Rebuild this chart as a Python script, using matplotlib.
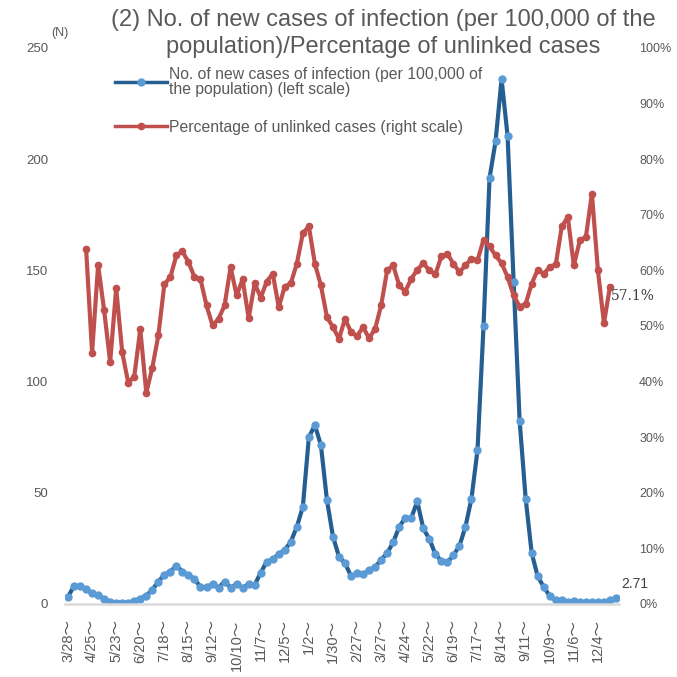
import matplotlib
matplotlib.use("Agg")
import matplotlib.pyplot as plt
from matplotlib.lines import Line2D

# weekly series, week 0 = 3/28
new_cases = [
    3.3, 8.1, 8.1, 6.6, 4.8, 4.1, 2.2, 1.1, 0.6, 0.6,
    0.6, 1.5, 2.4, 3.8, 6.3, 10.1, 13.1, 14.6, 17.2, 14.6,
    13.1, 11.1, 7.8, 7.5, 9.0, 7.4, 10.1, 7.4, 8.9, 7.4,
    9.0, 8.6, 14.1, 19.0, 20.1, 22.5, 24.3, 28.0, 34.7, 43.7,
    75.1, 80.4, 71.4, 46.7, 30.3, 21.3, 18.3, 12.6, 13.8, 13.5,
    15.1, 16.7, 19.8, 22.9, 27.7, 34.7, 38.7, 38.7, 46.1, 34.0,
    29.2, 22.5, 19.3, 18.7, 21.9, 26.1, 34.7, 47.4, 69.1, 124.8,
    191.5, 208.0, 236.0, 210.4, 145.0, 82.3, 47.4, 22.9, 12.4, 7.7,
    3.6, 1.7, 1.7, 0.8, 1.4, 0.8, 0.8, 0.8, 0.8, 0.8,
    1.7, 2.71,
]
# percentage of unlinked cases, starts at week 3
unlinked_start = 3
unlinked_pct = [
    63.9, 45.2, 61.0, 52.8, 43.5, 56.8, 45.3, 39.8, 40.9, 49.4,
    38.0, 42.5, 48.3, 57.5, 58.8, 62.7, 63.4, 61.5, 58.8, 58.4,
    53.7, 50.1, 51.3, 53.7, 60.6, 55.5, 58.4, 51.4, 57.7, 55.1,
    58.0, 59.4, 53.4, 57.1, 57.7, 61.2, 66.7, 67.9, 61.2, 57.3,
    51.6, 49.8, 47.7, 51.3, 48.9, 48.2, 49.8, 47.8, 49.5, 53.7,
    60.0, 60.9, 57.3, 56.2, 58.5, 60.1, 61.3, 60.0, 59.3, 62.5,
    63.0, 61.2, 59.7, 60.9, 62.1, 61.8, 65.5, 64.3, 62.7, 61.3,
    58.8, 55.5, 53.5, 54.0, 57.6, 60.1, 59.4, 60.6, 61.1, 67.9,
    69.6, 60.9, 65.4, 66.0, 73.8, 60.0, 50.5, 57.1,
]
tick_labels = [
    "3/28", "4/25", "5/23", "6/20", "7/18", "8/15", "9/12", "10/10",
    "11/7", "12/5", "1/2", "1/30", "2/27", "3/27", "4/24", "5/22",
    "6/19", "7/17", "8/14", "9/11", "10/9", "11/6", "12/4",
]
tick_step = 4

TXT = "#595959"
plt.rcParams["font.family"] = ["Liberation Sans", "DejaVu Sans"]

fig = plt.figure(figsize=(6.77, 6.77), dpi=100)
ax = fig.add_axes([65 / 677, 73 / 677, 554 / 677, 556 / 677])
ax2 = ax.twinx()

x_blue = list(range(len(new_cases)))
x_red = list(range(unlinked_start, unlinked_start + len(unlinked_pct)))

ax.plot(x_blue, new_cases, color="#255E91", lw=3, marker="o", ms=5,
        mfc="#5B9BD5", mec="#5B9BD5", solid_joinstyle="round")
ax2.plot(x_red, unlinked_pct, color="#C0504D", lw=3, marker="o", ms=4.5,
         mfc="#C0504D", mec="#C0504D", solid_joinstyle="round")

ax.set_xlim(-0.5, len(new_cases) - 0.5)
ax.set_ylim(0, 250)
ax2.set_ylim(0, 100)
ax.set_yticks(range(0, 251, 50))
ax2.set_yticks(range(0, 101, 10))
ax2.set_yticklabels([f"{v}%" for v in range(0, 101, 10)])

ticks = list(range(0, len(new_cases), tick_step))[:len(tick_labels)]
ax.set_xticks(ticks)
ax.set_xticklabels([t + "〜" for t in tick_labels], rotation=90,
                   family=["Liberation Sans", "Noto Sans CJK JP"],
                   fontsize=10.5, color=TXT)

for a in (ax, ax2):
    for s in a.spines.values():
        s.set_visible(False)
    a.tick_params(length=0)
ax.spines["bottom"].set_visible(True)
ax.spines["bottom"].set_color("#d9d9d9")
ax.spines["bottom"].set_linewidth(1.8)

ax.tick_params(axis="y", pad=12, labelsize=9.5, labelcolor=TXT)
ax.tick_params(axis="x", pad=11)
ax2.tick_params(axis="y", pad=14.5, labelsize=9, labelcolor=TXT)

# data labels for last points
ax.annotate(f"{new_cases[-1]:.2f}", (x_blue[-1], new_cases[-1]),
            xytext=(4, 10), textcoords="offset points", fontsize=10,
            color="#404040", va="center")
ax2.annotate(f"{unlinked_pct[-1]:.1f}%", (x_red[-1], unlinked_pct[-1]),
             xytext=(1, -7), textcoords="offset points", fontsize=10,
             color="#404040", family=["DejaVu Serif"], va="center")

fig.text(60 / 677, 1 - 33 / 677, "(N)", fontsize=9, color=TXT, ha="center", va="center")
fig.text(383 / 677, 1 - 20 / 677,
         "(2) No. of new cases of infection (per 100,000 of the",
         fontsize=17, color=TXT, ha="center", va="center")
fig.text(383 / 677, 1 - 47 / 677,
         "population)/Percentage of unlinked cases",
         fontsize=17, color=TXT, ha="center", va="center")

handles = [
    Line2D([], [], color="#255E91", lw=2.5, marker="o", ms=5,
           mfc="#5B9BD5", mec="#5B9BD5"),
    Line2D([], [], color="#C0504D", lw=2.5, marker="o", ms=4.5,
           mfc="#C0504D", mec="#C0504D"),
]
labels = [
    "No. of new cases of infection (per 100,000 of\nthe population) (left scale)",
    "Percentage of unlinked cases (right scale)",
]
leg = ax2.legend(handles, labels, loc="upper left", bbox_to_anchor=(0.09, 0.966),
                 frameon=False, fontsize=11.3, handlelength=3.3, handletextpad=0.15,
                 labelspacing=1.45, borderpad=0, borderaxespad=0)
for t in leg.get_texts():
    t.set_color(TXT)
    t.set_linespacing(1.0)

fig.savefig("out.png", dpi=100)
